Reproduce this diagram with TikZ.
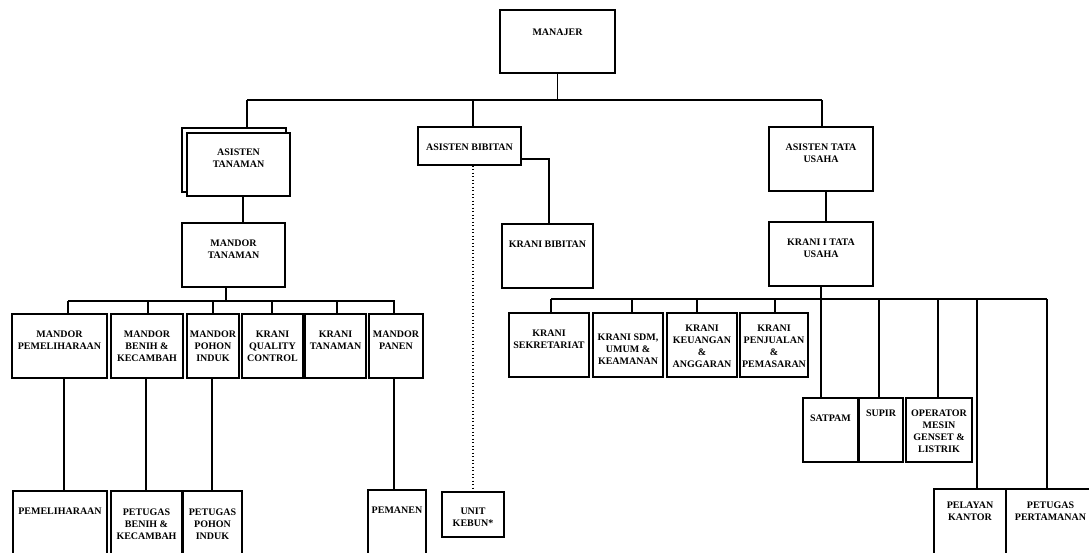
\documentclass[tikz,border=0pt]{standalone}
\usepackage{fontspec}
\setmainfont{Liberation Serif}

\tikzset{every picture/.style={line width=1.3pt}}
\tikzset{orgbox/.style={draw, inner sep=0pt, fill=white},
  boxtext/.style={anchor=north, align=center, inner sep=0pt, font=\bfseries\fontsize{10}{12}\selectfont},
  link/.style={line width=1.3pt},
  dotlink/.style={line width=1.2pt, dash pattern={on 1.3pt off 2.2pt}}}

\begin{document}
\begin{tikzpicture}[x=1pt,y=1pt,yscale=-1,xscale=1]
\useasboundingbox (0,0) rectangle (1089,552);
\clip (0,0) rectangle (1089,552);

%Shape: Rectangle [manajer]
\node [orgbox, minimum width=115, minimum height=63] (man) at (557.5,41.5) {};
%Shape: Rectangle [asisten tanaman, double]
\node [orgbox, minimum width=104, minimum height=64] (astb) at (234,160) {};
\node [orgbox, minimum width=103, minimum height=63] (ast) at (238.5,164.5) {};
%Shape: Rectangle [asisten bibitan]
\node [orgbox, minimum width=103, minimum height=38] (asb) at (469.5,146) {};
%Shape: Rectangle [asisten tata usaha]
\node [orgbox, minimum width=104, minimum height=64] (atu) at (821,159) {};
%Shape: Rectangle [mandor tanaman]
\node [orgbox, minimum width=103, minimum height=64] (mt) at (233.5,255) {};
%Shape: Rectangle [krani bibitan]
\node [orgbox, minimum width=91, minimum height=64] (kb) at (547.5,256) {};
%Shape: Rectangle [krani i tata usaha]
\node [orgbox, minimum width=104, minimum height=64] (ktu) at (821,254) {};

%Shape: Rectangle [mandor row]
\node [orgbox, minimum width=95, minimum height=64] (mpel) at (59.5,346) {};
\node [orgbox, minimum width=72, minimum height=64] (mbk) at (147,346) {};
\node [orgbox, minimum width=52, minimum height=64] (mpi) at (213,346) {};
\node [orgbox, minimum width=61, minimum height=64] (kqc) at (272.5,346) {};
\node [orgbox, minimum width=61, minimum height=64] (ktan) at (335.5,346) {};
\node [orgbox, minimum width=54, minimum height=64] (mpan) at (396,346) {};
%Shape: Rectangle [krani row]
\node [orgbox, minimum width=80, minimum height=64] (ksek) at (549,345) {};
\node [orgbox, minimum width=70, minimum height=64] (ksdm) at (628,345) {};
\node [orgbox, minimum width=70, minimum height=64] (kkeu) at (702,345) {};
\node [orgbox, minimum width=68, minimum height=64] (kpen) at (774,345) {};
%Shape: Rectangle [staff row]
\node [orgbox, minimum width=55, minimum height=64] (satpam) at (830.5,430) {};
\node [orgbox, minimum width=44, minimum height=64] (supir) at (881,430) {};
\node [orgbox, minimum width=66, minimum height=64] (oper) at (939,430) {};
%Shape: Rectangle [bottom row]
\node [orgbox, minimum width=94, minimum height=69] (pem) at (60,525.5) {};
\node [orgbox, minimum width=71, minimum height=69] (pbk) at (146.5,525.5) {};
\node [orgbox, minimum width=59, minimum height=69] (ppi) at (212.5,525.5) {};
\node [orgbox, minimum width=58, minimum height=70] (pmn) at (397,525) {};
\node [orgbox, minimum width=62, minimum height=45] (unit) at (473,514.5) {};
\node [orgbox, minimum width=72, minimum height=71] (pk) at (970,524.5) {};
\node [orgbox, minimum width=89, minimum height=71] (ppt) at (1050.5,524.5) {};

%Straight Lines [manajer to asisten]
\coordinate (busAl) at (247,100);
\coordinate (busAm) at (473,100);
\coordinate (busAr) at (822,100);
\draw [link] (man.south) -- (man.south |- busAl);
\draw [link] (busAl) -- (busAr);
\draw [link] (busAl) -- (busAl |- astb.north);
\draw [link] (busAm) -- (busAm |- asb.north);
\draw [link] (busAr) -- (busAr |- atu.north);
%Straight Lines [asisten to next level]
\coordinate (jT) at (243,196);
\draw [link] (jT |- ast.south) -- (jT |- mt.north);
\coordinate (kbBend) at (549,159);
\draw [link] (asb.east |- kbBend) -- (kbBend) -- (kbBend |- kb.north);
\draw [dotlink] (asb.south -| unit.north) -- (unit.north);
\coordinate (jU) at (826,191);
\draw [link] (jU |- atu.south) -- (jU |- ktu.north);

%Straight Lines [mandor tanaman bus]
\coordinate (busM) at (226,301);
\coordinate (busMl) at (68,301);
\coordinate (busMr) at (395,301);
\draw [link] (busM |- mt.south) -- (busM);
\draw [link] (busMl) -- (busMr);
\foreach \x/\n in {68/mpel,148/mbk,213/mpi,272/kqc,337/ktan,394/mpan}
  \draw [link] (\x,301) -- (\x,301 |- \n.north);
\foreach \x/\a/\b in {64/mpel/pem,146/mbk/pbk,212/mpi/ppi,394/mpan/pmn}
  \draw [link] (\x,0 |- \a.south) -- (\x,0 |- \b.north);

%Straight Lines [krani i tata usaha bus]
\coordinate (busKl) at (551,299);
\coordinate (busKr) at (1047,299);
\draw [link] (ktu.south) -- (ktu.south |- satpam.north);
\draw [link] (busKl) -- (busKr);
\foreach \x/\n in {551/ksek,632/ksdm,697/kkeu,775/kpen,879/supir,938/oper,977/pk,1047/ppt}
  \draw [link] (\x,299) -- (\x,299 |- \n.north);

% Text Node
\node [boxtext] (man-t) at (557.5,28.5) {MANAJER};
% Text Node
\node [boxtext] (ast-t) at (238.5,148.5) {ASISTEN\\TANAMAN};
% Text Node
\node [boxtext] (asb-t) at (469.5,143.5) {ASISTEN BIBITAN};
% Text Node
\node [boxtext] (atu-t) at (821,143.5) {ASISTEN TATA\\USAHA};
% Text Node
\node [boxtext] (mt-t) at (233.5,239.5) {MANDOR\\TANAMAN};
% Text Node
\node [boxtext] (kb-t) at (547.5,240.5) {KRANI BIBITAN};
% Text Node
\node [boxtext] (ktu-t) at (821,238.5) {KRANI I TATA\\USAHA};
% Text Node
\node [boxtext] (mpel-t) at (59.5,330.5) {MANDOR\\PEMELIHARAAN};
% Text Node
\node [boxtext] (mbk-t) at (147,330.5) {MANDOR\\BENIH \&\\KECAMBAH};
% Text Node
\node [boxtext] (mpi-t) at (213,330.5) {MANDOR\\POHON\\INDUK};
% Text Node
\node [boxtext] (kqc-t) at (272.5,330.5) {KRANI\\QUALITY\\CONTROL};
% Text Node
\node [boxtext] (ktan-t) at (335.5,330.5) {KRANI\\TANAMAN};
% Text Node
\node [boxtext] (mpan-t) at (396,330.5) {MANDOR\\PANEN};
% Text Node
\node [boxtext] (ksek-t) at (549,329.5) {KRANI\\SEKRETARIAT};
% Text Node
\node [boxtext] (ksdm-t) at (628,333.5) {KRANI SDM,\\UMUM \&\\KEAMANAN};
% Text Node
\node [boxtext] (kkeu-t) at (702,324.5) {KRANI\\KEUANGAN\\\&\\ANGGARAN};
% Text Node
\node [boxtext] (kpen-t) at (774,324.5) {KRANI\\PENJUALAN\\\&\\PEMASARAN};
% Text Node
\node [boxtext] (satpam-t) at (830.5,414.5) {SATPAM};
% Text Node
\node [boxtext] (supir-t) at (881,409.5) {SUPIR};
% Text Node
\node [boxtext] (oper-t) at (939,409.5) {OPERATOR\\MESIN\\GENSET \&\\LISTRIK};
% Text Node
\node [boxtext] (pem-t) at (60,507.5) {PEMELIHARAAN};
% Text Node
\node [boxtext] (pbk-t) at (146.5,508.5) {PETUGAS\\BENIH \&\\KECAMBAH};
% Text Node
\node [boxtext] (ppi-t) at (212.5,508.5) {PETUGAS\\POHON\\INDUK};
% Text Node
\node [boxtext] (pmn-t) at (397,506.5) {PEMANEN};
% Text Node
\node [boxtext] (unit-t) at (473,507.5) {UNIT\\KEBUN*};
% Text Node
\node [boxtext] (pk-t) at (970,501.5) {PELAYAN\\KANTOR};
% Text Node
\node [boxtext] (ppt-t) at (1050.5,501.5) {PETUGAS\\PERTAMANAN};

\end{tikzpicture}
\end{document}
